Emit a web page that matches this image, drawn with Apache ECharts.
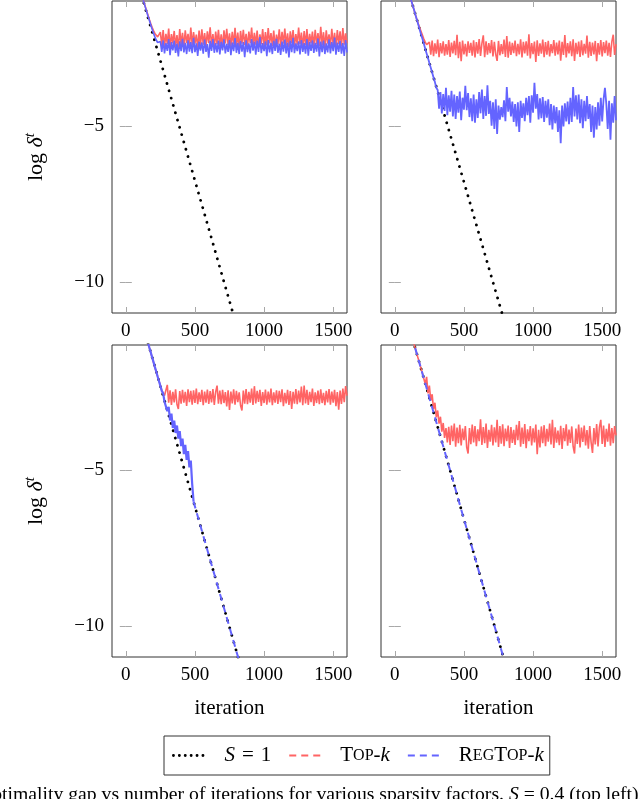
<!DOCTYPE html>
<html><head><meta charset="utf-8">
<script src="https://cdn.jsdelivr.net/npm/echarts@6/dist/echarts.min.js"></script>
<style>html,body{margin:0;padding:0;background:#fff}#c{width:640px;height:799px}</style>
</head><body><div id="c"></div>
<script>
// ---------- data ----------
const iterations = [
100,110,120,130,140,150,160,170,180,190,
200,210,220,230,240,250,260,270,280,290,
300,310,320,330,340,350,360,370,380,390,
400,410,420,430,440,450,460,470,480,490,
500,510,520,530,540,550,560,570,580,590,
600,610,620,630,640,650,660,670,680,690,
700,710,720,730,740,750,760,770,780,790,
800,810,820,830,840,850,860,870,880,890,
900,910,920,930,940,950,960,970,980,990,
1000,1010,1020,1030,1040,1050,1060,1070,1080,1090,
1100,1110,1120,1130,1140,1150,1160,1170,1180,1190,
1200,1210,1220,1230,1240,1250,1260,1270,1280,1290,
1300,1310,1320,1330,1340,1350,1360,1370,1380,1390,
1400,1410,1420,1430,1440,1450,1460,1470,1480,1490,
1500,1510,1520,1530,1540,1550,1560,1570,1580,1590,
1600];

// top-left panel
const tlTopk = [
-0.55,-0.70,-0.86,-1.02,-1.17,-1.31,-1.45,-1.59,-1.72,-1.84,
-1.95,-2.04,-2.10,-2.15,-2.20,
-2.00,-2.42,-1.93,-2.47,-2.05,-2.38,-1.88,-2.50,-2.06,-2.36,
-1.96,-2.45,-2.09,-2.53,-1.90,-2.40,-2.02,-2.48,-1.94,-2.35,
-2.05,-2.49,-1.85,-2.42,-2.00,-2.37,-2.08,-2.52,-1.95,-2.44,
-1.91,-2.40,-2.03,-2.46,-1.97,-2.35,-1.84,-2.43,-2.06,-2.51,
-1.98,-2.38,-1.92,-2.45,-2.07,-2.49,-1.94,-2.36,-1.89,-2.42,
-2.04,-2.47,-1.99,-2.39,-1.86,-2.44,-2.01,-2.54,-1.96,-2.37,
-1.92,-2.41,-2.05,-2.48,-1.98,-2.35,-1.85,-2.45,-2.02,-2.40,
-1.95,-2.50,-2.07,-2.38,-1.90,-2.46,-2.00,-2.42,-1.87,-2.36,
-2.03,-2.44,-1.95,-2.52,-2.08,-2.39,-1.91,-2.47,-1.99,-2.37,
-1.88,-2.43,-2.04,-2.49,-1.97,-2.35,-1.93,-2.45,-2.06,-2.40,
-1.85,-2.38,-2.01,-2.51,-1.96,-2.42,-1.90,-2.46,-2.05,-2.36,
-1.98,-2.48,-1.92,-2.39,-2.03,-2.44,-1.83,-2.41,-2.00,-2.50,
-1.94,-2.37,-2.07,-2.45,-1.89,-2.42,-2.02,-2.49,-1.93,-2.38,
-1.97,-2.46,-1.87,-2.40,-2.04,-2.35];
const tlReg = [
-0.55,-0.71,-0.87,-1.03,-1.18,-1.33,-1.48,-1.62,-1.76,-1.90,
-2.03,-2.15,-2.25,-2.33,-2.39,
-2.30,-2.63,-2.26,-2.68,-2.35,-2.60,-2.22,-2.74,-2.32,-2.58,
-2.27,-2.66,-2.37,-2.78,-2.29,-2.61,-2.21,-2.65,-2.34,-2.70,
-2.26,-2.62,-2.32,-2.67,-2.18,-2.64,-2.36,-2.76,-2.30,-2.59,
-2.33,-2.69,-2.24,-2.63,-2.38,-2.82,-2.28,-2.60,-2.22,-2.66,
-2.35,-2.65,-2.27,-2.71,-2.31,-2.58,-2.23,-2.68,-2.37,-2.63,
-2.25,-2.74,-2.33,-2.61,-2.19,-2.66,-2.34,-2.70,-2.28,-2.62,
-2.32,-2.80,-2.26,-2.64,-2.36,-2.68,-2.22,-2.59,-2.30,-2.72,
-2.27,-2.63,-2.16,-2.67,-2.35,-2.61,-2.29,-2.77,-2.25,-2.65,
-2.34,-2.70,-2.28,-2.60,-2.21,-2.66,-2.37,-2.73,-2.30,-2.62,
-2.24,-2.68,-2.33,-2.81,-2.27,-2.64,-2.18,-2.67,-2.36,-2.61,
-2.29,-2.71,-2.25,-2.63,-2.35,-2.69,-2.22,-2.75,-2.31,-2.60,
-2.26,-2.66,-2.34,-2.62,-2.20,-2.78,-2.30,-2.64,-2.27,-2.70,
-2.36,-2.65,-2.23,-2.68,-2.32,-2.61,-2.17,-2.72,-2.33,-2.63,
-2.28,-2.69,-2.35,-2.76,-2.25,-2.65];

// top-right panel
const trTopk = [
-0.68,-0.84,-1.00,-1.15,-1.30,-1.46,-1.60,-1.74,-1.86,-1.98,
-2.10,-2.22,-2.32,-2.40,-2.45,
-2.32,-2.72,-2.27,-2.77,-2.36,-2.69,-2.24,-2.80,-2.35,-2.68,
-2.29,-2.75,-2.38,-2.72,-2.25,-2.79,-2.33,-2.68,-2.28,-2.74,
-2.08,-2.83,-2.31,-2.93,-2.27,-2.71,-2.37,-2.78,-2.29,-2.66,
-2.34,-2.75,-2.26,-2.81,-2.32,-2.69,-2.22,-2.76,-2.36,-2.10,
-2.80,-2.29,-2.72,-2.35,-2.67,-2.25,-2.78,-2.31,-2.71,-2.92,
-2.28,-2.74,-2.38,-2.70,-2.24,-2.79,-2.12,-2.82,-2.30,-2.73,
-2.34,-2.67,-2.27,-2.77,-2.37,-2.71,-2.23,-2.81,-2.31,-2.68,
-2.29,-2.75,-2.07,-2.84,-2.35,-2.70,-2.30,-2.95,-2.26,-2.76,
-2.36,-2.69,-2.24,-2.80,-2.32,-2.72,-2.28,-2.78,-2.38,-2.67,
-2.25,-2.75,-2.33,-2.71,-2.27,-2.91,-2.31,-2.73,-2.09,-2.81,
-2.35,-2.68,-2.29,-2.77,-2.23,-2.92,-2.34,-2.70,-2.30,-2.79,
-2.26,-2.74,-2.37,-2.69,-2.11,-2.82,-2.31,-2.76,-2.33,-2.71,
-2.28,-2.93,-2.35,-2.72,-2.25,-2.78,-2.32,-2.67,-2.27,-2.75,
-2.34,-2.79,-2.30,-2.08,-2.73,-2.38];
const trReg = [
-0.68,-0.84,-1.00,-1.15,-1.30,-1.46,-1.61,-1.76,-1.92,-2.07,
-2.22,-2.37,-2.53,-2.68,-2.83,-2.99,-3.14,-3.29,-3.45,-3.60,
-3.78,
-3.85,-4.45,-3.92,-4.60,-3.98,-4.52,-3.78,-4.66,-4.02,-4.55,
-3.88,-4.70,-4.00,-4.78,-4.05,-4.58,-3.90,-4.82,-4.10,-4.48,
-3.72,-4.50,-3.95,-4.72,-4.12,-4.85,-4.00,-4.90,-4.15,-4.75,
-3.92,-4.60,-3.84,-4.78,-4.05,-4.68,-3.70,-4.62,-4.20,-5.00,
-4.25,-5.10,-4.15,-5.26,-4.35,-4.80,-4.40,-4.72,-4.18,-4.85,
-3.76,-4.55,-4.10,-4.70,-4.22,-4.88,-4.30,-5.02,-4.25,-5.20,
-4.20,-4.75,-4.28,-4.85,-4.10,-4.66,-4.05,-4.90,-4.02,-4.58,
-3.62,-4.45,-3.98,-4.80,-4.12,-4.76,-4.08,-4.88,-4.20,-4.74,
-4.15,-4.98,-4.30,-5.12,-4.35,-4.92,-4.40,-5.20,-4.50,-5.56,
-4.35,-5.02,-4.28,-4.86,-4.22,-4.95,-4.10,-4.88,-3.76,-4.70,
-4.02,-4.80,-4.00,-4.92,-4.15,-5.08,-4.20,-4.85,-4.05,-4.78,
-4.30,-5.20,-4.35,-5.38,-4.40,-5.12,-4.25,-5.00,-4.10,-4.86,
-4.15,-3.78,-4.30,-5.10,-4.20,-5.45,-4.28,-4.90,-4.05,-4.82];

// bottom-left panel
const blTopk = [
0.00,-0.15,-0.31,-0.46,-0.62,-0.77,-0.92,-1.08,-1.23,-1.40,
-1.55,-1.72,-1.86,-2.00,-2.15,-2.30,-2.45,-2.55,-2.62,-2.66,
-2.28,-2.85,-2.45,-2.92,-2.50,-2.84,-2.42,-2.90,-3.05,-2.48,
-2.88,-2.44,-2.85,-2.50,-2.95,-2.42,-2.83,-2.47,-2.91,-2.45,
-2.86,-2.40,-2.90,-2.52,-2.82,-2.44,-2.93,-2.49,-2.85,-2.43,
-2.89,-2.48,-2.84,-2.41,-2.92,-2.50,-2.30,-2.88,-2.46,-2.90,
-2.44,-2.86,-2.51,-2.97,-2.45,-3.08,-2.49,-2.87,-2.42,-2.91,
-2.47,-2.83,-2.52,-2.94,-3.10,-2.46,-2.88,-2.41,-2.90,-2.50,
-2.85,-2.40,-2.92,-2.32,-2.87,-2.47,-2.82,-2.44,-2.95,-2.51,
-2.86,-2.43,-2.91,-2.49,-2.84,-2.40,-2.93,-2.52,-2.85,-2.45,
-2.89,-2.47,-2.83,-2.42,-2.96,-2.53,-2.87,-2.44,-2.92,-2.48,
-3.05,-2.50,-2.88,-2.41,-2.90,-2.46,-2.84,-2.33,-2.93,-2.30,
-2.87,-2.44,-2.92,-2.50,-2.83,-2.40,-2.95,-2.52,-2.86,-2.46,
-2.90,-2.42,-2.86,-2.53,-2.93,-2.47,-2.84,-2.41,-2.91,-2.49,
-2.85,-2.44,-2.96,-2.51,-3.07,-2.46,-2.89,-2.40,-2.83,-2.32,
-2.62];
const blRegNoisy = [
0.00,-0.15,-0.31,-0.46,-0.62,-0.77,-0.92,-1.08,-1.23,-1.39,
-1.54,-1.70,-1.85,-2.01,-2.16,-2.31,-2.47,-2.55,-2.82,-2.80,
-3.12,-2.98,-3.42,-3.20,-3.66,-3.42,-3.82,-3.58,-4.00,-3.76,
-4.24,-4.00,-4.50,-4.20,-4.68,-4.40,-4.92,-4.70,-5.45];
const blRegTailIter = [490, 600, 700, 800, 900];
const blRegTailVal = [-6.02, -7.73, -9.27, -10.82, -12.36];

// bottom-right panel
const brTopk = [
-0.36,-0.52,-0.67,-0.83,-0.98,-1.14,-1.30,-1.45,-1.60,-1.76,
-1.90,-2.08,-2.25,-2.02,-2.55,-2.30,-2.78,-2.58,-3.05,-2.85,
-3.32,-3.10,-3.52,-3.30,-3.78,-3.50,-3.98,-3.66,
-4.12,-3.62,-4.20,-3.58,-4.08,-3.52,-4.26,-3.65,-4.15,-3.56,
-4.22,-3.68,-4.05,-3.60,-4.28,-4.48,-3.66,-4.18,-3.55,-4.12,
-3.60,-4.24,-3.70,-4.08,-3.38,-4.20,-3.63,-4.15,-3.52,-4.30,
-3.72,-4.10,-3.56,-4.22,-3.64,-4.12,-3.40,-4.27,-3.60,-4.16,
-3.54,-4.24,-3.68,-4.08,-3.58,-4.30,-3.63,-4.14,-3.72,-4.20,
-3.56,-4.05,-3.44,-4.26,-3.65,-4.17,-3.53,-4.31,-3.70,-4.08,
-3.60,-4.22,-3.67,-4.12,-3.55,-4.50,-3.72,-4.28,-3.61,-4.15,
-3.57,-4.24,-3.69,-4.10,-3.52,-4.19,-3.40,-4.30,-3.64,-4.13,
-3.74,-4.21,-3.59,-4.33,-3.66,-4.08,-3.54,-4.23,-3.71,-4.14,
-3.61,-4.26,-4.48,-3.68,-4.17,-3.55,-4.28,-3.65,-4.11,-3.58,
-4.22,-3.73,-4.32,-3.60,-4.12,-4.46,-3.66,-4.19,-3.53,-4.25,
-3.63,-3.40,-4.17,-3.58,-4.27,-3.69,-4.10,-3.52,-4.23,-3.66,
-4.15,-3.60,-3.90];

// full-gradient (S = 1) reference lines, and smooth RegTop-k in bottom-right
const lineIter = [100, 200, 300, 400, 500, 600, 700, 800, 900];
const tlFull = [-0.60, -2.14, -3.68, -5.22, -6.76, -8.30, -9.85, -11.39, -12.93];
const trFull = [-0.69, -2.22, -3.75, -5.28, -6.80, -8.33, -9.86, -11.38, -12.91];
const blFull = [0.00, -1.54, -3.09, -4.63, -6.18, -7.73, -9.27, -10.82, -12.36];
const brFull = [-0.36, -1.92, -3.47, -5.02, -6.58, -8.13, -9.68, -11.24, -12.79];
const brReg  = [-0.36, -1.92, -3.47, -5.02, -6.58, -8.13, -9.68, -11.24, -12.79];

const xTicks = [0, 500, 1000, 1500];
const yTicks = [-10, -5];
const seriesNames = ['S = 1', 'Top-k', 'RegTop-k'];

// ---------- chart ----------
const F = '"Liberation Serif","Times New Roman",serif';
const RED = '#ff6464', BLUE = '#6464ff';
const pair = (xs, ys) => ys.map((y, i) => [xs[i], y]);
const DOT = {color: '#000', width: 2.8, type: [0.1, 7.5], cap: 'round'};
const DASH = [7, 5];
const noisyRed = {color: RED, width: 1.6};
const noisyBlue = {color: BLUE, width: 1.6};

const panels = [
  {left: 112, top: 1, yName: true, xName: false, lines: [
    {name: 'S = 1', data: pair(lineIter, tlFull), style: DOT},
    {name: 'Top-k', data: pair(iterations, tlTopk), style: noisyRed},
    {name: 'RegTop-k', data: pair(iterations, tlReg), style: noisyBlue}]},
  {left: 381, top: 1, yName: false, xName: false, lines: [
    {name: 'S = 1', data: pair(lineIter, trFull), style: DOT},
    {name: 'Top-k', data: pair(iterations, trTopk), style: noisyRed},
    {name: 'RegTop-k', data: pair(iterations, trReg), style: {color: BLUE, width: 1.8}}]},
  {left: 112, top: 345, yName: true, xName: true, lines: [
    {name: 'S = 1', data: pair(lineIter, blFull), style: DOT},
    {name: 'Top-k', data: pair(iterations, blTopk), style: noisyRed},
    {name: 'RegTop-k', data: pair(iterations, blRegNoisy).concat([[blRegTailIter[0], blRegTailVal[0]]]), style: {color: BLUE, width: 2.2}},
    {name: 'RegTop-k', data: pair(blRegTailIter, blRegTailVal), style: {color: BLUE, width: 2, type: DASH}}]},
  {left: 381, top: 345, yName: false, xName: true, lines: [
    {name: 'S = 1', data: pair(lineIter, brFull), style: DOT},
    {name: 'Top-k', data: pair(iterations, brTopk), style: noisyRed},
    {name: 'RegTop-k', data: pair(lineIter, brReg), style: {color: BLUE, width: 2, type: DASH}}]}
];

const tickStyle = {inside: true, length: 6, lineStyle: {color: '#a8a8a8', width: 1}};
const grid = [], xAxis = [], yAxis = [], series = [];
const minus = v => String(v).replace('-', '\u2212');

panels.forEach((p, k) => {
  grid.push({left: p.left, top: p.top, width: 235, height: 312, show: true,
    borderColor: '#333', borderWidth: 1, backgroundColor: 'transparent', containLabel: false, outerBoundsMode: 'none'});
  xAxis.push({gridIndex: k, type: 'value', min: -100, max: 1600, position: 'bottom',
    axisLine: {show: false}, splitLine: {show: false},
    axisTick: Object.assign({customValues: xTicks}, tickStyle),
    axisLabel: {customValues: xTicks, formatter: v => String(v), fontFamily: F, fontSize: 19, color: '#000', margin: 9},
    name: p.xName ? 'iteration' : '', nameLocation: 'middle', nameGap: 41,
    nameTextStyle: {fontFamily: F, fontSize: 21, color: '#000'}});
  xAxis.push({gridIndex: k, type: 'value', min: -100, max: 1600, position: 'top',
    axisLine: {show: false}, splitLine: {show: false},
    axisTick: Object.assign({customValues: xTicks}, tickStyle), axisLabel: {show: false}});
  yAxis.push({gridIndex: k, type: 'value', min: -11, max: -1, position: 'left',
    axisLine: {show: false}, splitLine: {show: false},
    axisTick: Object.assign({customValues: yTicks}, tickStyle),
    axisLabel: {show: p.yName, customValues: yTicks, formatter: minus, fontFamily: F, fontSize: 19, color: '#000', margin: 8},
    name: p.yName ? '{a|log }{b|\u03b4}{c|t}' : '', nameLocation: 'middle', nameGap: 63, nameRotate: 90,
    nameTextStyle: {rich: {
      a: {fontFamily: F, fontSize: 22, color: '#000', lineHeight: 26},
      b: {fontFamily: F, fontSize: 22, fontStyle: 'italic', color: '#000', lineHeight: 26},
      c: {fontFamily: F, fontSize: 15, fontStyle: 'italic', color: '#000', lineHeight: 13, verticalAlign: 'top'}
    }}});
  yAxis.push({gridIndex: k, type: 'value', min: -11, max: -1, position: 'right',
    axisLine: {show: false}, splitLine: {show: false},
    axisTick: Object.assign({customValues: yTicks}, tickStyle), axisLabel: {show: false}});

  p.lines.forEach(l => series.push({name: l.name, type: 'line', xAxisIndex: 2 * k, yAxisIndex: 2 * k,
    data: l.data, symbol: 'none', showSymbol: false, clip: true, silent: true,
    lineStyle: l.style, itemStyle: {color: l.style.color}}));
});

const legendRich = {
  n: {fontFamily: F, fontSize: 21, color: '#000'},
  i: {fontFamily: F, fontSize: 21, fontStyle: 'italic', color: '#000'},
  s: {fontFamily: F, fontSize: 16, color: '#000'}
};
const legendLabel = {
  'S = 1': '{i|S}{n|\u2004=\u20041}',
  'Top-k': '{n|T}{s|OP}{n|-}{i|k}',
  'RegTop-k': '{n|R}{s|EG}{n|T}{s|OP}{n|-}{i|k}'
};
const hideSym = {opacity: 0};

const chart = echarts.init(document.getElementById('c'), null, {renderer: 'canvas'});
chart.setOption({
  animation: false,
  backgroundColor: '#fff',
  grid, xAxis, yAxis, series,
  legend: {
    data: [
      {name: 'S = 1', itemStyle: hideSym, lineStyle: {color: '#000', width: 2.8, type: [0.1, 5.8], cap: 'round'}},
      {name: 'Top-k', itemStyle: hideSym, lineStyle: {color: RED, width: 2, type: DASH}},
      {name: 'RegTop-k', itemStyle: hideSym, lineStyle: {color: BLUE, width: 2, type: DASH}}
    ],
    left: 164, top: 736, orient: 'horizontal',
    padding: [9, 6, 9, 8], itemGap: 17, itemWidth: 34, itemHeight: 12,
    borderColor: '#333', borderWidth: 1, selectedMode: false,
    formatter: name => legendLabel[name],
    textStyle: {fontFamily: F, fontSize: 21, color: '#000', padding: [0, 0, 0, 12], rich: legendRich}
  },
  graphic: [{
    type: 'text', left: -22, top: 785, silent: true,
    style: {text: '{n|Optimality gap vs number of iterations for various sparsity factors. }{i|S}{n| = 0.4 (top left),}',
      rich: {n: {fontFamily: F, fontSize: 19.7, fill: '#000'}, i: {fontFamily: F, fontSize: 19.7, fontStyle: 'italic', fill: '#000'}}}
  }]
});
</script>
</body></html>
